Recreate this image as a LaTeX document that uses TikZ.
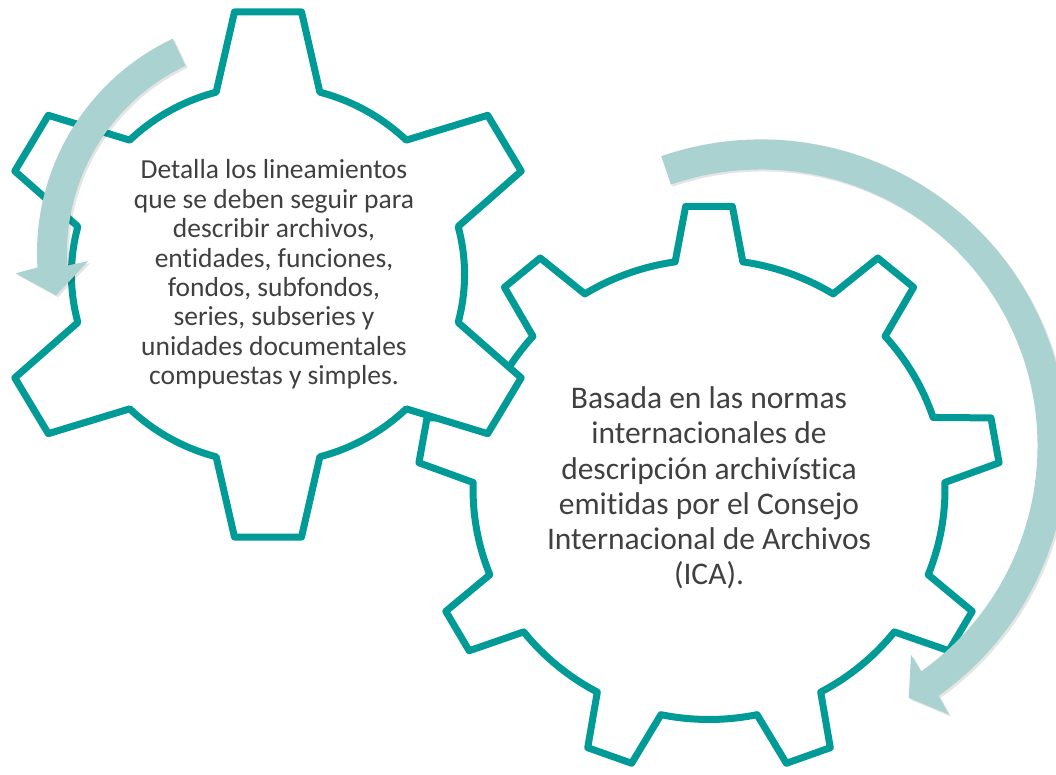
\documentclass[tikz,border=0pt]{standalone}
\usepackage{fontspec}
\setmainfont{Carlito}[Ligatures={NoCommon}]
\definecolor{gearc}{RGB}{0,155,150}
\definecolor{arrc}{RGB}{170,210,208}
\definecolor{txtc}{RGB}{64,64,64}
\begin{document}
\begin{tikzpicture}[x=1pt,y=1pt,
  gearline/.style={draw=gearc, line width=7pt, line join=round, fill=white},
  arrowfill/.style={fill=arrc, draw=none},
  arrowshadow/.style={fill=black, opacity=0.10, draw=none},
  gtext/.style={text=txtc, align=center, inner sep=0pt}]
\useasboundingbox (0,0) rectangle (1056,775);
\fill[white] (0,0) rectangle (1056,775);

% gear 2 (9 teeth)
\begin{scope}[shift={(709,285.5)}, xscale=1.026]
\draw[gearline] (90-8.25:230)
  \foreach \k in {0,...,8} {
    -- ({90+40*\k-4.6}:284) -- ({90+40*\k+4.6}:284) -- ({90+40*\k+8.25}:230)
    arc[start angle={90+40*\k+8.25}, end angle={130+40*\k-8.25}, radius=230]
  } -- cycle;
\end{scope}

% gear 1 (6 teeth)
\begin{scope}[shift={(268,500.5)}, xscale=1.04]
\draw[gearline] (90-15.3:189)
  \foreach \k in {0,...,5} {
    -- ({90+60*\k-7}:264.5) -- ({90+60*\k+7}:264.5) -- ({90+60*\k+15.3}:189)
    arc[start angle={90+60*\k+15.3}, end angle={150+60*\k-15.3}, radius=189]
  } -- cycle;
\end{scope}

% arrow 1
\begin{scope}[shift={(276,520)}]
\fill[arrowshadow] (115.3:237) arc[start angle=115.3, end angle=183.5, radius=237]
  -- (184.5:259) -- (191:222) -- (182.5:186) -- (183.5:207)
  arc[start angle=183.5, end angle=115.3, radius=207] -- cycle;
\end{scope}
\begin{scope}[shift={(274,522)}]
\fill[arrowfill] (115.3:237) arc[start angle=115.3, end angle=183.5, radius=237]
  -- (184.5:259) -- (191:222) -- (182.5:186) -- (183.5:207)
  arc[start angle=183.5, end angle=115.3, radius=207] -- cycle;
\end{scope}

% arrow 2
\begin{scope}[shift={(763,327)}]
\fill[arrowshadow] (109:306.5) arc[start angle=109, end angle=-54.6, radius=306.5]
  -- (-55:328) -- (-59.6:292) -- (-54.3:257) -- (-54.6:276.5)
  arc[start angle=-54.6, end angle=109, radius=276.5] -- cycle;
\end{scope}
\begin{scope}[shift={(761,329)}]
\fill[arrowfill] (109:306.5) arc[start angle=109, end angle=-54.6, radius=306.5]
  -- (-55:328) -- (-59.6:292) -- (-54.3:257) -- (-54.6:276.5)
  arc[start angle=-54.6, end angle=109, radius=276.5] -- cycle;
\end{scope}

% texts
\node[gtext, font=\fontsize{27.5}{29.4}\selectfont] (t1) at (274,500.5)
  {Detalla los lineamientos\\que se deben seguir para\\describir archivos,\\entidades, funciones,\\fondos, subfondos,\\series, subseries y\\unidades documentales\\compuestas y simples.};
\node[gtext, font=\fontsize{31.5}{35.3}\selectfont] (t2) at (709,287)
  {Basada en las normas\\internacionales de\\descripción archivística\\emitidas por el Consejo\\Internacional de Archivos\\(ICA).};
\end{tikzpicture}
\end{document}
